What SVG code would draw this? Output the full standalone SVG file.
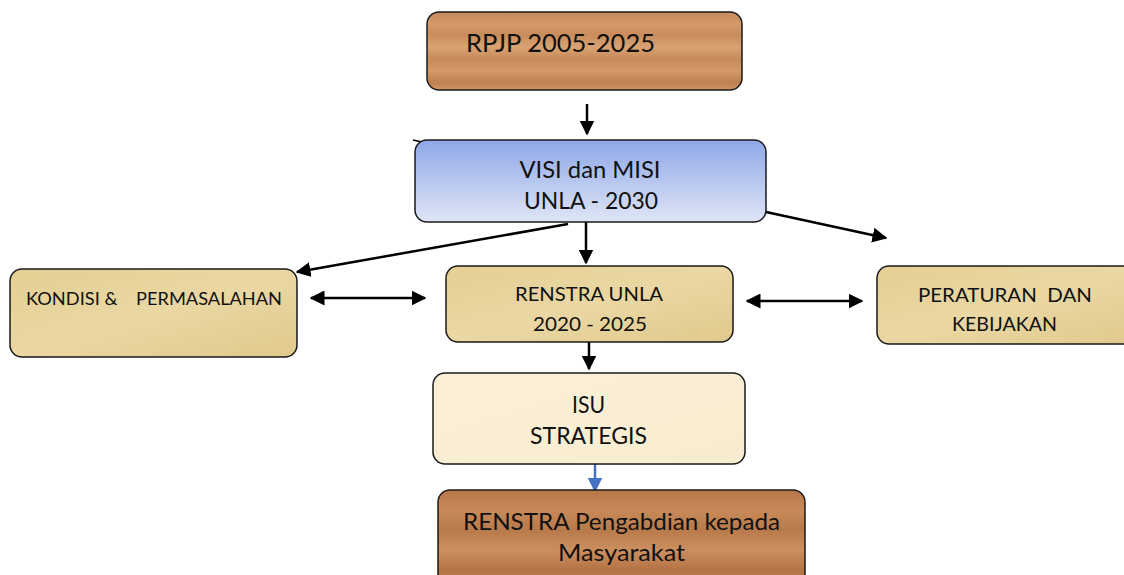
<svg xmlns="http://www.w3.org/2000/svg" width="1124" height="575" viewBox="0 0 1124 575">
<style>
.box{stroke:#1a1a1a;stroke-width:1.5}
.t{font-family:Lato,"Open Sans","Liberation Sans",sans-serif;fill:#111;text-anchor:middle}
.ln{stroke:#000;stroke-width:2.5;fill:none}
</style>
<defs>
<linearGradient id="wood" x1="0" y1="0" x2="0" y2="1">
<stop offset="0" stop-color="#c4875a"/>
<stop offset="0.15" stop-color="#d59b6c"/>
<stop offset="0.3" stop-color="#c98c5c"/>
<stop offset="0.45" stop-color="#d9a373"/>
<stop offset="0.6" stop-color="#c68a5a"/>
<stop offset="0.75" stop-color="#d49a69"/>
<stop offset="0.9" stop-color="#c0804f"/>
<stop offset="1" stop-color="#cf9464"/>
</linearGradient>
<linearGradient id="wood2" x1="0" y1="0" x2="0" y2="1">
<stop offset="0" stop-color="#b87647"/>
<stop offset="0.2" stop-color="#c98a5a"/>
<stop offset="0.4" stop-color="#b97a4b"/>
<stop offset="0.6" stop-color="#cc8f5f"/>
<stop offset="0.8" stop-color="#b57345"/>
<stop offset="1" stop-color="#c4855a"/>
</linearGradient>
<linearGradient id="blue" x1="0" y1="0" x2="0" y2="1">
<stop offset="0" stop-color="#8ea7e6"/>
<stop offset="1" stop-color="#dfe5f6"/>
</linearGradient>
<linearGradient id="papy" x1="0" y1="0" x2="1" y2="1">
<stop offset="0" stop-color="#e4cf93"/>
<stop offset="0.5" stop-color="#ead7a3"/>
<stop offset="1" stop-color="#e0c98c"/>
</linearGradient>
<linearGradient id="cream" x1="0" y1="0" x2="1" y2="1">
<stop offset="0" stop-color="#fbf0d6"/>
<stop offset="1" stop-color="#f8ecd0"/>
</linearGradient>
<marker id="ah" viewBox="0 0 10 10" refX="9" refY="5" markerWidth="6" markerHeight="6" markerUnits="strokeWidth" orient="auto-start-reverse">
<path d="M0,0 L10,5 L0,10 z" fill="#000"/>
</marker>
<marker id="ahb" viewBox="0 0 10 10" refX="9" refY="5" markerWidth="6" markerHeight="6" markerUnits="strokeWidth" orient="auto">
<path d="M0,0 L10,5 L0,10 z" fill="#4472c4"/>
</marker>
</defs>
<rect width="1124" height="575" fill="#fff"/>

<g id="connectors">
<line class="ln" x1="587" y1="104" x2="587" y2="134" marker-end="url(#ah)"/>
<line x1="413" y1="140" x2="422" y2="142" stroke="#000" stroke-width="1.5"/>
<line class="ln" x1="568" y1="224" x2="297" y2="272" marker-end="url(#ah)"/>
<line class="ln" x1="766" y1="212" x2="886" y2="238" marker-end="url(#ah)"/>
<line class="ln" x1="586" y1="222" x2="586" y2="263" marker-end="url(#ah)"/>
<line class="ln" x1="311" y1="298" x2="425" y2="298" marker-start="url(#ah)" marker-end="url(#ah)"/>
<line class="ln" x1="747" y1="301" x2="862" y2="301" marker-start="url(#ah)" marker-end="url(#ah)"/>
<line class="ln" x1="589" y1="342" x2="589" y2="369" marker-end="url(#ah)"/>
<line x1="595" y1="464" x2="595" y2="491" stroke="#4472c4" stroke-width="2.5" marker-end="url(#ahb)"/>
</g>

<g id="rpjp">
<rect class="box" x="427" y="12" width="315" height="78" rx="12" fill="url(#wood)"/>
<text class="t" x="560.5" y="52" font-size="25" textLength="189" lengthAdjust="spacingAndGlyphs">RPJP 2005-2025</text>
</g>

<g id="visi">
<rect class="box" x="415" y="140" width="351" height="82" rx="12" fill="url(#blue)"/>
<text class="t" x="590" y="178" font-size="23" textLength="141" lengthAdjust="spacingAndGlyphs">VISI dan MISI</text>
<text class="t" x="591" y="209" font-size="23" textLength="134" lengthAdjust="spacingAndGlyphs">UNLA - 2030</text>
</g>

<g id="kondisi">
<rect class="box" x="10" y="269" width="287" height="88" rx="12" fill="url(#papy)"/>
<text class="t" x="26" y="305" font-size="17" style="text-anchor:start" xml:space="preserve" textLength="256" lengthAdjust="spacingAndGlyphs">KONDISI &amp;    PERMASALAHAN</text>
</g>

<g id="renstra-unla">
<rect class="box" x="446" y="266" width="287" height="76" rx="12" fill="url(#papy)"/>
<text class="t" x="589" y="301" font-size="19" textLength="148" lengthAdjust="spacingAndGlyphs">RENSTRA UNLA</text>
<text class="t" x="590" y="331" font-size="19" textLength="114" lengthAdjust="spacingAndGlyphs">2020 - 2025</text>
</g>

<g id="peraturan">
<rect class="box" x="877" y="266" width="262" height="78" rx="12" fill="url(#papy)"/>
<text class="t" x="1005" y="302" font-size="19" xml:space="preserve" textLength="174" lengthAdjust="spacingAndGlyphs">PERATURAN  DAN</text>
<text class="t" x="1004.5" y="331" font-size="19" textLength="105" lengthAdjust="spacingAndGlyphs">KEBIJAKAN</text>
</g>

<g id="isu">
<rect class="box" x="433" y="373" width="312" height="91" rx="12" fill="url(#cream)"/>
<text class="t" x="588.5" y="413" font-size="23" textLength="33" lengthAdjust="spacingAndGlyphs">ISU</text>
<text class="t" x="588.5" y="444" font-size="23" textLength="117" lengthAdjust="spacingAndGlyphs">STRATEGIS</text>
</g>

<g id="renstra-pkm">
<rect class="box" x="438" y="490" width="367" height="100" rx="12" fill="url(#wood2)"/>
<text class="t" x="621.5" y="530" font-size="24" textLength="317" lengthAdjust="spacingAndGlyphs">RENSTRA Pengabdian kepada</text>
<text class="t" x="621.5" y="561" font-size="24" textLength="127" lengthAdjust="spacingAndGlyphs">Masyarakat</text>
</g>
</svg>
